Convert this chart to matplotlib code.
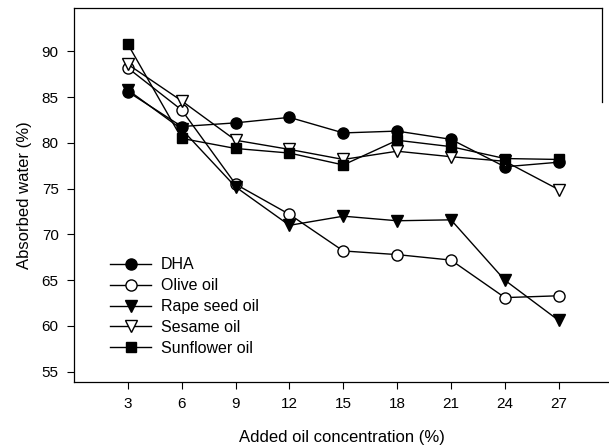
import matplotlib
matplotlib.use("Agg")
import matplotlib.pyplot as plt

plt.rcParams['font.family'] = ['Liberation Sans', 'DejaVu Sans']

# oil concentration (%) and absorbed water (%) for each oil
conc = [3, 6, 9, 12, 15, 18, 21, 24, 27]
dha = [85.6, 81.8, 82.2, 82.8, 81.1, 81.3, 80.4, 77.4, 77.9]
olive = [88.2, 83.6, 75.5, 72.2, 68.2, 67.8, 67.2, 63.1, 63.3]
rapeseed = [85.8, 81.5, 75.2, 71.0, 72.0, 71.5, 71.6, 65.0, 60.6]
sesame = [88.6, 84.6, 80.3, 79.3, 78.2, 79.1, 78.5, 78.0, 74.9]
sunflower = [90.8, 80.5, 79.4, 78.9, 77.6, 80.3, 79.6, 78.3, 78.2]

fig = plt.figure(figsize=(6.09, 4.46), dpi=100)
ax = fig.add_axes([0.1215, 0.144, 0.8785, 0.839])

style = dict(color='black', linewidth=1.0, markeredgewidth=1.0,
             markeredgecolor='black')
ax.plot(conc, dha, marker='o', markersize=8, markerfacecolor='black', label='DHA', **style)
ax.plot(conc, olive, marker='o', markersize=8, markerfacecolor='white', label='Olive oil', **style)
ax.plot(conc, rapeseed, marker='v', markersize=8, markerfacecolor='black', label='Rape seed oil', **style)
ax.plot(conc, sesame, marker='v', markersize=8, markerfacecolor='white', label='Sesame oil', **style)
ax.plot(conc, sunflower, marker='s', markersize=7, markerfacecolor='black', label='Sunflower oil', **style)

ax.set_xlim(0, 29.8)
ax.set_ylim(53.9, 94.8)
ax.set_xticks(conc)
ax.set_yticks(range(55, 91, 5))
ax.tick_params(direction='out', length=5, width=0.8, labelsize=11, pad=6)

for s in ax.spines.values():
    s.set_linewidth(0.9)
ax.spines['top'].set_bounds(0, 29.4)
ax.spines['right'].set_position(('data', 29.4))
ax.spines['right'].set_bounds(84.5, 94.8)

ax.set_xlabel('Added oil concentration (%)', fontsize=12, labelpad=14)
ax.set_ylabel('Absorbed water (%)', fontsize=12, labelpad=7)

ax.legend(loc='lower left', bbox_to_anchor=(0.055, 0.052), frameon=False,
          fontsize=11.5, handlelength=2.6, handletextpad=0.6, labelspacing=0.37,
          borderaxespad=0)

fig.savefig('out.png', dpi=100)
